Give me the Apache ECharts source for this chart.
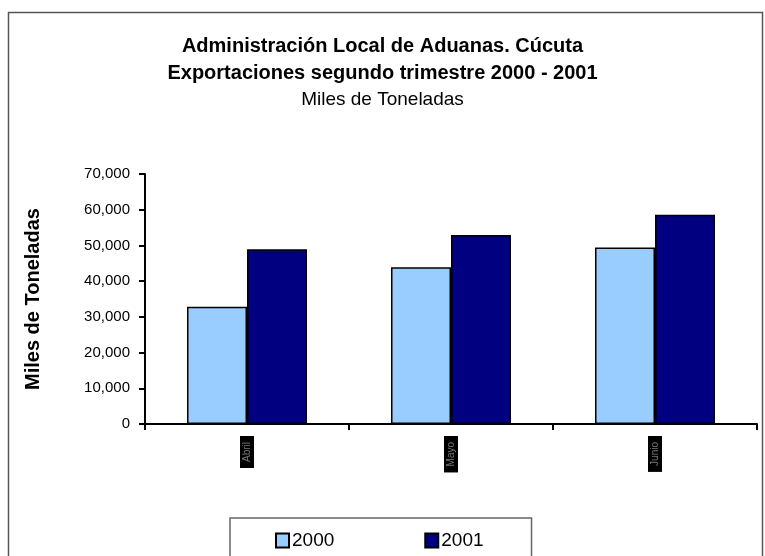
<!DOCTYPE html>
<html>
<head>
<meta charset="utf-8">
<script src="https://cdn.jsdelivr.net/npm/echarts@6/dist/echarts.min.js"></script>
<style>
  html, body { margin: 0; padding: 0; background: #fff; }
  #chart { width: 765px; height: 556px; }
</style>
</head>
<body>
<div id="chart"></div>
<script>
// categorias (segundo trimestre)
const months = ['Abril', 'Mayo', 'Junio']
const seriesNames = ['2000', '2001']
const values2000 = [32800, 43900, 49400]
const values2001 = [48900, 52900, 58600]
const yTicks = [0, 10000, 20000, 30000, 40000, 50000, 60000, 70000]

const chart = echarts.init(document.getElementById('chart'))
const font = '"Liberation Sans", Arial, sans-serif'

const option = {
  animation: false,
  backgroundColor: '#fff',
  textStyle: { fontFamily: font, color: '#000' },
  graphic: [{
    type: 'rect',
    shape: { x: 8.5, y: 12.5, width: 754, height: 600 },
    style: { fill: 'none', stroke: '#555', lineWidth: 1.5 },
    silent: true
  }],
  title: [
    { text: 'Administración Local de Aduanas. Cúcuta', left: 'center', top: 31,
      textStyle: { fontFamily: font, fontSize: 20, fontWeight: 'bold', color: '#000' } },
    { text: 'Exportaciones segundo trimestre 2000 - 2001', left: 'center', top: 58,
      textStyle: { fontFamily: font, fontSize: 20, fontWeight: 'bold', color: '#000' } },
    { text: 'Miles de Toneladas', left: 'center', top: 85,
      textStyle: { fontFamily: font, fontSize: 19, fontWeight: 'normal', color: '#000' } }
  ],
  legend: {
    data: seriesNames,
    left: 230,
    top: 518,
    orient: 'horizontal',
    padding: [13, 48, 13, 45],
    itemGap: 90,
    itemWidth: 13,
    itemHeight: 14,
    icon: 'rect',
    borderColor: '#666',
    borderWidth: 1.5,
    textStyle: { fontFamily: font, fontSize: 19, color: '#000', padding: [0, 0, 0, -2] }
  },
  grid: { left: 145, right: 8, top: 174, bottom: 132, containLabel: false },
  xAxis: {
    type: 'category',
    data: months,
    axisLine: { lineStyle: { color: '#000', width: 2 } },
    axisTick: { show: true, inside: false, length: 6, lineStyle: { color: '#000', width: 2 } },
    axisLabel: {
      rotate: 90,
      margin: 12,
      fontSize: 10,
      color: '#777',
      backgroundColor: '#000',
      padding: [2, 6]
    }
  },
  yAxis: {
    type: 'value',
    min: yTicks[0],
    max: yTicks[yTicks.length - 1],
    interval: 10000,
    name: 'Miles de Toneladas',
    nameLocation: 'middle',
    nameGap: 102,
    nameTextStyle: { fontFamily: font, fontSize: 20, fontWeight: 'bold', color: '#000' },
    axisLine: { show: true, lineStyle: { color: '#000', width: 2 } },
    axisTick: { show: true, inside: false, length: 6, lineStyle: { color: '#000', width: 2 } },
    splitLine: { show: false },
    axisLabel: {
      margin: 15,
      fontSize: 15,
      color: '#000',
      formatter: v => v.toLocaleString('en-US')
    }
  },
  series: [
    {
      name: seriesNames[0], type: 'bar', data: values2000,
      barWidth: 60, barGap: '0%', barCategoryGap: '41%',
      itemStyle: { color: '#99ccff', borderColor: '#000', borderWidth: 1.5 }
    },
    {
      name: seriesNames[1], type: 'bar', data: values2001,
      barWidth: 60, barGap: '0%',
      itemStyle: { color: '#000080', borderColor: '#000', borderWidth: 1.5 }
    }
  ]
}

chart.setOption(option)
</script>
</body>
</html>
